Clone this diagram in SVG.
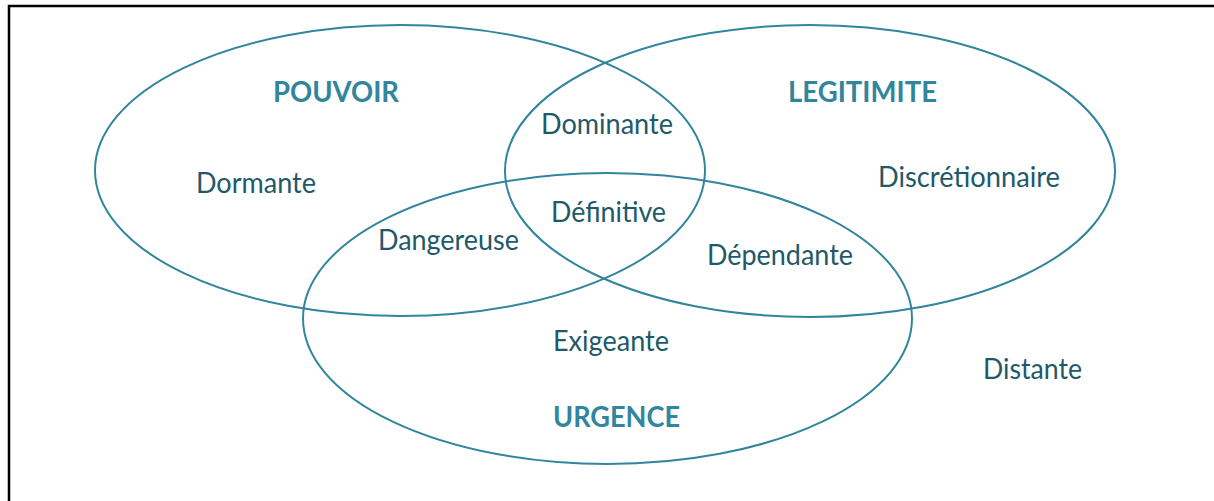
<svg xmlns="http://www.w3.org/2000/svg" width="1214" height="501" viewBox="0 0 1214 501">
<style>
.set{fill:none;stroke:#31859C;stroke-width:2}
.t{font-family:Lato,"Open Sans","Liberation Sans",sans-serif;font-size:28px;fill:#215968;text-anchor:middle}
.h{font-family:Lato,"Open Sans","Liberation Sans",sans-serif;font-size:29px;font-weight:bold;fill:#31859C;text-anchor:middle}
.frame{fill:none;stroke:#000;stroke-width:2.5}
</style>
<rect width="1214" height="501" fill="#fff"/>
<path class="frame" d="M9,501 V6 H1214"/>
<g id="pouvoir">
<ellipse class="set" cx="400" cy="170.5" rx="305" ry="145.5"/>
<text class="h" x="336" y="101.5" textLength="126" lengthAdjust="spacingAndGlyphs">POUVOIR</text>
</g>
<g id="legitimite">
<ellipse class="set" cx="810" cy="171" rx="305" ry="146"/>
<text class="h" x="862.5" y="101.5" textLength="149" lengthAdjust="spacingAndGlyphs">LEGITIMITE</text>
</g>
<g id="urgence">
<ellipse class="set" cx="607.5" cy="318.5" rx="304.5" ry="145.5"/>
<text class="h" x="616.5" y="426.5" textLength="127" lengthAdjust="spacingAndGlyphs">URGENCE</text>
</g>
<g id="dormante"><text class="t" x="256" y="193" textLength="120" lengthAdjust="spacingAndGlyphs">Dormante</text></g>
<g id="dominante"><text class="t" x="607" y="134" textLength="132" lengthAdjust="spacingAndGlyphs">Dominante</text></g>
<g id="discretionnaire"><text class="t" x="969" y="187" textLength="182" lengthAdjust="spacingAndGlyphs">Discrétionnaire</text></g>
<g id="definitive"><text class="t" x="608.5" y="222" textLength="115" lengthAdjust="spacingAndGlyphs">Définitive</text></g>
<g id="dangereuse"><text class="t" x="448.5" y="250" textLength="141" lengthAdjust="spacingAndGlyphs">Dangereuse</text></g>
<g id="dependante"><text class="t" x="780" y="265" textLength="146" lengthAdjust="spacingAndGlyphs">Dépendante</text></g>
<g id="exigeante"><text class="t" x="611" y="351" textLength="116" lengthAdjust="spacingAndGlyphs">Exigeante</text></g>
<g id="distante"><text class="t" x="1032.5" y="379" textLength="99" lengthAdjust="spacingAndGlyphs">Distante</text></g>
<g id="connectors"/>
</svg>
